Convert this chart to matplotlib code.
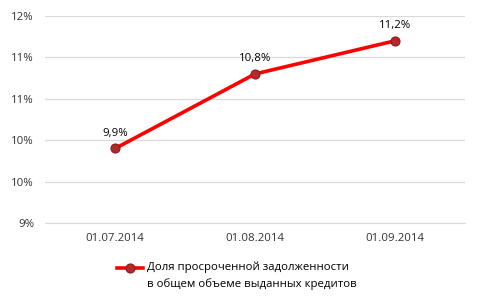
import numpy as np
import matplotlib.pyplot as plt
from matplotlib.lines import Line2D
from matplotlib.ticker import FuncFormatter

dates = ["01.07.2014", "01.08.2014", "01.09.2014"]
values = [9.9, 10.8, 11.2]
value_labels = ["9,9%", "10,8%", "11,2%"]
y_ticks = [9.0, 9.5, 10.0, 10.5, 11.0, 11.5]
legend_label = "Доля просроченной задолженности\nв общем объеме выданных кредитов"

plt.rcParams['font.family'] = ['Open Sans', 'DejaVu Sans']

fig = plt.figure(figsize=(4.8, 3.06), dpi=100)
ax = fig.add_axes([0.094, 0.271, 0.875, 0.677])

x = np.arange(len(dates))
ax.plot(x, values, color="#FF0000", lw=2.6, marker="o", ms=6.5,
        mfc="#B22A2A", mec="#8C1C1C", mew=0.8, zorder=3)

for xi, v, lab in zip(x, values, value_labels):
    ax.annotate(lab, (xi, v), xytext=(0, 7), textcoords="offset points",
                ha="center", va="bottom", fontsize=8.2, color="#000000")

ax.set_xlim(-0.5, len(dates) - 0.5)
ax.set_ylim(y_ticks[0], y_ticks[-1])
ax.set_yticks(y_ticks)
# excel style rounding: half away from zero
ax.yaxis.set_major_formatter(FuncFormatter(lambda v, p: f"{int(np.floor(v + 0.5))}%"))
ax.set_xticks(x)
ax.set_xticklabels(dates)

ax.grid(axis="y", color="#D9D9D9", lw=0.9)
ax.set_axisbelow(True)
for s in ["top", "right", "left"]:
    ax.spines[s].set_visible(False)
ax.spines["bottom"].set_color("#D9D9D9")
ax.tick_params(axis="both", length=0, labelsize=8.2, labelcolor="#333333")
ax.tick_params(axis="y", pad=8)
ax.tick_params(axis="x", pad=7)

# legend drawn by hand so the handle sits on the first line
fig.add_artist(Line2D([0.244, 0.298], [0.124, 0.124], color="#FF0000", lw=2.6,
                      transform=fig.transFigure))
fig.add_artist(Line2D([0.271], [0.124], marker="o", ms=6.5, mfc="#B22A2A",
                      mec="#8C1C1C", mew=0.8, transform=fig.transFigure))
fig.text(0.306, 0.144, legend_label, fontsize=8.2, color="#000000",
         ha="left", va="top", linespacing=1.5,
         transform=fig.transFigure)

fig.savefig("out.png", dpi=100)
